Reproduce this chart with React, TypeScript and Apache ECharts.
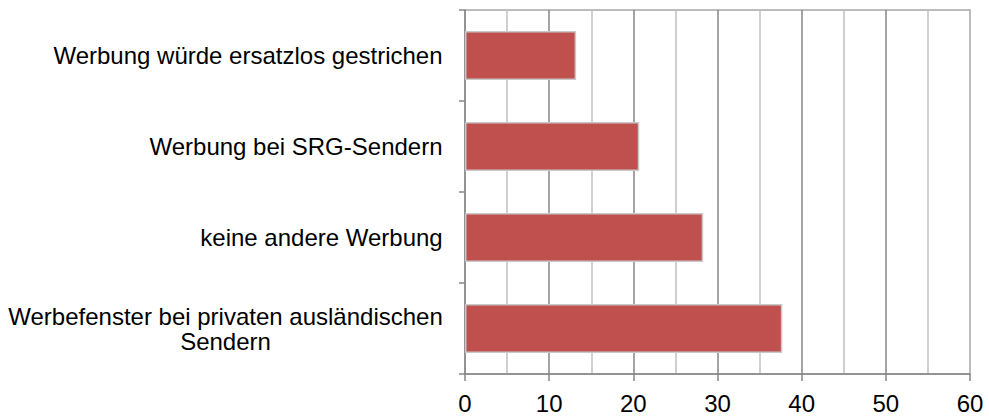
import React, { useEffect, useRef } from "react";
import * as echarts from "echarts";

const categories: string[] = [
  "Werbung würde ersatzlos gestrichen",
  "Werbung bei SRG-Sendern",
  "keine andere Werbung",
  "Werbefenster bei privaten ausländischen\nSendern",
];
const values: number[] = [13.2, 20.7, 28.3, 37.7];
const xMin = 0;
const xMax = 60;
const xInterval = 10;

const FONT = '"Liberation Sans", Arial, sans-serif';
const FS = 24;

function measure(t: string): number {
  const ctx = document.createElement("canvas").getContext("2d");
  if (!ctx) return t.length * FS * 0.5;
  ctx.font = `${FS}px ${FONT}`;
  return ctx.measureText(t).width;
}

export default function App() {
  const ref = useRef<HTMLDivElement>(null);
  useEffect(() => {
    if (!ref.current) return;
    const chart = echarts.init(ref.current, undefined, { renderer: "svg" });
    const rich: Record<string, any> = {};
    categories.forEach((c, i) => {
      const w = Math.ceil(Math.max(...c.split("\n").map(measure)));
      rich["c" + i] = {
        width: w,
        align: "center",
        fontSize: FS,
        fontFamily: FONT,
        color: "#000",
        lineHeight: 25,
      };
    });
    chart.setOption({
      animation: false,
      backgroundColor: "#fff",
      grid: {
        left: 465,
        right: 19,
        top: 10,
        bottom: 42,
        show: true,
        borderColor: "#a6a6a6",
        borderWidth: 1.5,
        backgroundColor: "transparent",
      },
      xAxis: {
        type: "value",
        min: xMin,
        max: xMax,
        interval: xInterval,
        axisLine: { show: true, lineStyle: { color: "#868686", width: 1.5 } },
        axisTick: { show: true, length: 7, lineStyle: { color: "#868686", width: 1.5 } },
        axisLabel: {
          color: "#000",
          fontSize: FS,
          fontFamily: FONT,
          margin: 17,
        },
        splitLine: {
          show: true,
          showMinLine: false,
          showMaxLine: false,
          lineStyle: { color: "#868686", width: 1.5 },
        },
        minorTick: { show: false, splitNumber: 2 },
        minorSplitLine: { show: true, lineStyle: { color: "#c0c0c0", width: 1.5 } },
      },
      yAxis: {
        type: "category",
        data: categories,
        inverse: true,
        axisLine: { show: true, lineStyle: { color: "#868686", width: 1.5 } },
        axisTick: { show: true, length: 6, lineStyle: { color: "#868686", width: 1.5 } },
        axisLabel: {
          margin: 22,
          fontSize: FS,
          fontFamily: FONT,
          color: "#000",
          align: "right",
          formatter: (v: string, i: number) =>
            v
              .split("\n")
              .map((l) => `{c${i}|${l}}`)
              .join("\n"),
          rich,
        },
        splitLine: { show: false },
      },
      series: [
        {
          type: "bar",
          data: values,
          barWidth: 49,
          itemStyle: {
            color: "#c0504d",
            borderColor: "#c8c8c8",
            borderWidth: 1.5,
          },
        },
      ],
    });
    return () => chart.dispose();
  }, []);
  return (
    <div
      ref={ref}
      style={{ position: "absolute", left: 0, top: 0, width: 989, height: 416 }}
    />
  );
}
